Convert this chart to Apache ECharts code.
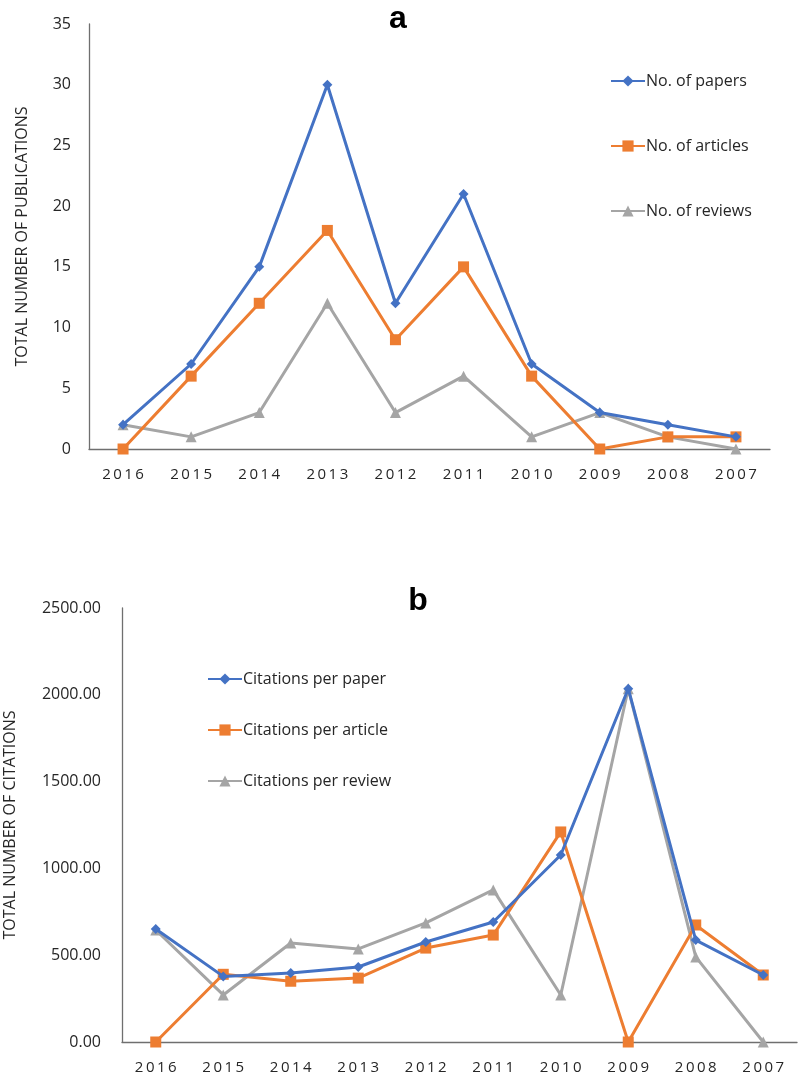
<!DOCTYPE html>
<html><head><meta charset="utf-8">
<script src="https://cdn.jsdelivr.net/npm/echarts@6/dist/echarts.min.js"></script>
<style>html,body{margin:0;padding:0;background:#fff}#c{width:800px;height:1075px}</style>
</head><body><div id="c"></div>
<script>
const years = ['2016','2015','2014','2013','2012','2011','2010','2009','2008','2007'];
const papers   = [2, 7, 15, 30, 12, 21, 7, 3, 2, 1];
const articles = [0, 6, 12, 18, 9, 15, 6, 0, 1, 1];
const reviews  = [2, 1, 3, 12, 3, 6, 1, 3, 1, 0];
const citPaper   = [651, 378, 397, 432, 576, 691, 1077, 2035, 587, 386];
const citArticle = [0, 390, 350, 368, 541, 616, 1210, 0, 674, 386];
const citReview  = [645, 271, 570, 536, 686, 876, 271, 2035, 490, 0];

const BLUE='#4472C4', ORANGE='#ED7D31', GRAY='#A5A5A5', TXT='#262626', AX='#6f6f6f';
const FONT='"Open Sans", sans-serif';

function xAx(gi){return {type:'category',gridIndex:gi,data:years,boundaryGap:true,
  axisLine:{lineStyle:{color:AX,width:1.3}},axisTick:{show:false},
  axisLabel:{color:TXT,fontSize:15,fontFamily:FONT,margin:18,formatter:v=>v.split('').join('\u2009')}};}
function ser(name,data,color,sym,size,xi){return {name,type:'line',xAxisIndex:xi,yAxisIndex:xi,data,
  symbol:sym,symbolSize:size,showSymbol:true,lineStyle:{color,width:3},itemStyle:{color},
  emphasis:{disabled:true},z:name.indexOf('review')>=0?1:(name.indexOf('article')>=0?2:3)};}

const chart = echarts.init(document.getElementById('c'));
chart.setOption({
  animation:false,
  textStyle:{fontFamily:FONT},
  title:[
    {text:'a',left:393,top:-2,textAlign:'center',textStyle:{fontSize:32,fontWeight:'bold',color:'#000',fontFamily:'Arial, "Liberation Sans", sans-serif'}},
    {text:'b',left:413,top:580,textAlign:'center',textStyle:{fontSize:32,fontWeight:'bold',color:'#000',fontFamily:'Arial, "Liberation Sans", sans-serif'}}
  ],
  legend:[
    {data:['No. of papers','No. of articles','No. of reviews'],orient:'vertical',left:610,top:73,padding:0,
     itemWidth:34,itemHeight:14,itemGap:49,textStyle:{color:TXT,fontSize:16,lineHeight:14,padding:[0,0,0,-4]}},
    {data:['Citations per paper','Citations per article','Citations per review'],orient:'vertical',left:207,top:671,padding:0,
     itemWidth:34,itemHeight:14,itemGap:35,textStyle:{color:TXT,fontSize:16,lineHeight:14,padding:[0,0,0,-4]}}
  ],
  grid:[
    {left:89,right:30,top:24,height:425,outerBoundsMode:'none',containLabel:false},
    {left:122,right:3,top:608,height:434,outerBoundsMode:'none',containLabel:false}
  ],
  xAxis:[xAx(0),xAx(1)],
  yAxis:[
    {type:'value',gridIndex:0,min:0,max:35,interval:5,splitLine:{show:false},
     axisLine:{show:true,lineStyle:{color:AX,width:1.3}},axisTick:{show:false},
     axisLabel:{color:TXT,fontSize:16,margin:18},
     name:'TOTAL NUMBER OF PUBLICATIONS',nameLocation:'middle',nameGap:59,nameRotate:90,
     nameTextStyle:{color:TXT,fontSize:16}},
    {type:'value',gridIndex:1,min:0,max:2500,interval:500,splitLine:{show:false},
     axisLine:{show:true,lineStyle:{color:AX,width:1.3}},axisTick:{show:false},
     axisLabel:{color:TXT,fontSize:16,margin:21,formatter:v=>v.toFixed(2)},
     name:'TOTAL NUMBER OF CITATIONS',nameLocation:'middle',nameGap:104,nameRotate:90,
     nameTextStyle:{color:TXT,fontSize:16}}
  ],
  series:[
    ser('No. of papers',papers,BLUE,'diamond',10,0),
    ser('No. of articles',articles,ORANGE,'rect',11,0),
    ser('No. of reviews',reviews,GRAY,'triangle',11,0),
    ser('Citations per paper',citPaper,BLUE,'diamond',10,1),
    ser('Citations per article',citArticle,ORANGE,'rect',11,1),
    ser('Citations per review',citReview,GRAY,'triangle',11,1)
  ]
});
</script></body></html>
